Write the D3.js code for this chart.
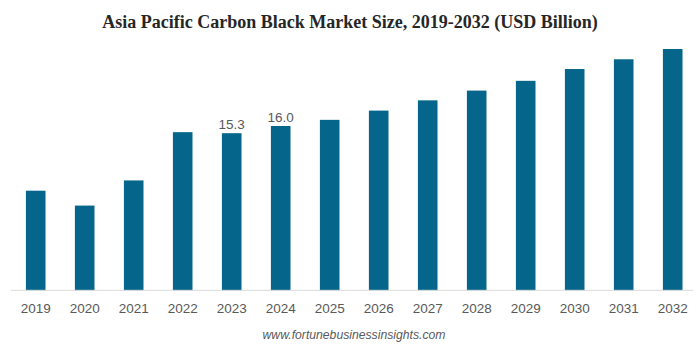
<!DOCTYPE html>
<html>
<head>
<meta charset="utf-8">
<script src="https://cdn.jsdelivr.net/npm/d3@7"></script>
<style>
  body { margin: 0; background: #fff; }
  svg { display: block; }
</style>
</head>
<body>
<div id="chart"></div>
<script>
var years = ["2019", "2020", "2021", "2022", "2023", "2024", "2025", "2026", "2027", "2028", "2029", "2030", "2031", "2032"];
var marketSize = [9.7, 8.25, 10.7, 15.4, 15.3, 16.0, 16.6, 17.5, 18.5, 19.45, 20.4, 21.55, 22.5, 23.5];
var labelledYears = ["2023", "2024"];

var svgWidth = 700;
var svgHeight = 348;

var baseY = 290.3;

var svg = d3.select("#chart")
  .append("svg")
  .attr("width", svgWidth)
  .attr("height", svgHeight);

var xScale = d3.scaleBand()
  .domain(years)
  .range([11.2, 697.2])
  .paddingInner(0.6)
  .paddingOuter(0.3);

var yScale = d3.scaleLinear()
  .domain([0, 23.5])
  .range([baseY, 49]);

// title
svg.append("text")
  .attr("x", 350)
  .attr("y", 28)
  .attr("text-anchor", "middle")
  .style("font-family", "'Liberation Serif', 'Times New Roman', serif")
  .style("font-weight", "bold")
  .style("font-size", "18px")
  .style("fill", "#262626")
  .text("Asia Pacific Carbon Black Market Size, 2019-2032 (USD Billion)");

// bars
svg.selectAll("rect.bar")
  .data(marketSize)
  .enter()
  .append("rect")
  .attr("class", "bar")
  .attr("x", (d, i) => xScale(years[i]))
  .attr("y", d => yScale(d))
  .attr("width", xScale.bandwidth())
  .attr("height", d => baseY - yScale(d))
  .style("fill", "#05658a");

// baseline + year labels
var xAxis = svg.append("g")
  .attr("transform", `translate(0, ${baseY})`)
  .call(d3.axisBottom(xScale).tickSize(0).tickPadding(13));

xAxis.select(".domain")
  .attr("d", "M11,0H693")
  .style("stroke", "#d9d9d9");

xAxis.selectAll("text")
  .style("font-family", "'Liberation Sans', Arial, sans-serif")
  .style("font-size", "13.5px")
  .style("fill", "#595959");

// value labels
svg.selectAll("text.value")
  .data(marketSize.filter((d, i) => labelledYears.includes(years[i])))
  .enter()
  .append("text")
  .attr("class", "value")
  .attr("x", (d, i) => xScale(labelledYears[i]) + xScale.bandwidth() / 2)
  .attr("y", d => yScale(d) - 4.5)
  .attr("text-anchor", "middle")
  .style("font-family", "'Liberation Sans', Arial, sans-serif")
  .style("font-size", "13.5px")
  .style("fill", "#595959")
  .text(d => d.toFixed(1));

// source
svg.append("text")
  .attr("x", 354)
  .attr("y", 339)
  .attr("text-anchor", "middle")
  .style("font-family", "'Liberation Sans', Arial, sans-serif")
  .style("font-style", "italic")
  .style("font-size", "12.2px")
  .style("fill", "#595959")
  .text("www.fortunebusinessinsights.com");
</script>
</body>
</html>
